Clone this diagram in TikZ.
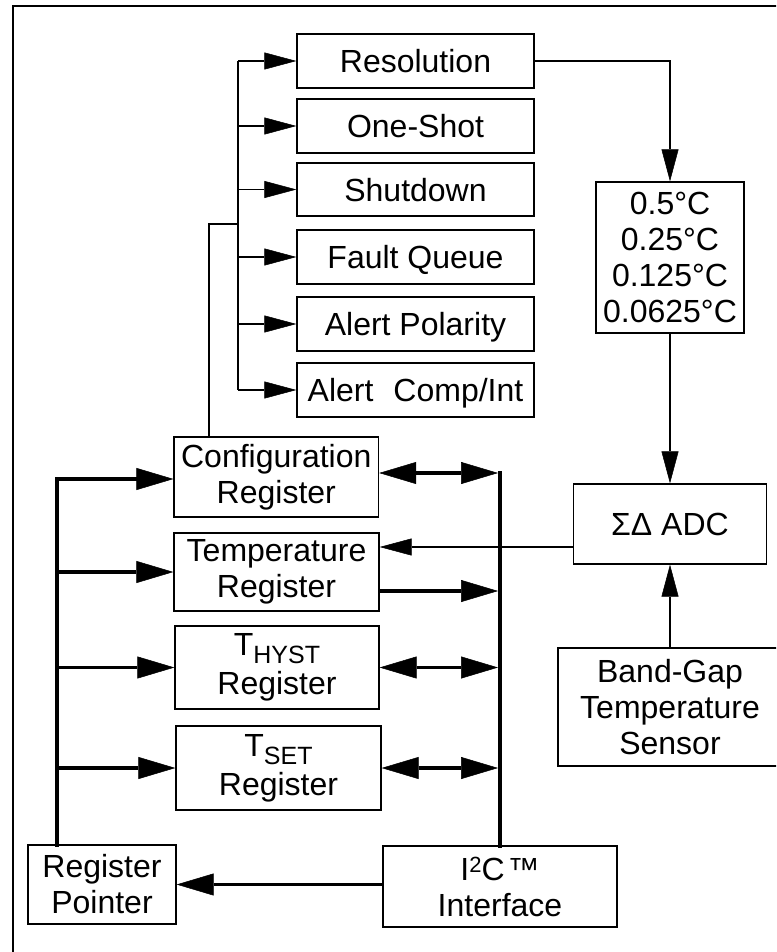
\documentclass[tikz,border=0pt]{standalone}
\usepackage{fontspec}
\setmainfont{Liberation Sans}
\usetikzlibrary{arrows.meta}
\tikzset{
  bx/.style={draw=black, line width=1.3pt, inner sep=0pt, align=center,
    font=\fontsize{32}{36}\selectfont},
  bxone/.style={draw=black, line width=1.3pt, inner sep=0pt,
    font=\fontsize{32}{36}\selectfont, text height=23pt, text depth=0pt},
  thinline/.style={line width=1.3pt},
  tarrow/.style={line width=1.3pt, -{Triangle[length=32pt,width=17pt,line width=0.5pt]}},
  karrow/.style={line width=3.5pt, -{Triangle[length=37pt,width=22pt,line width=0.5pt]}},
  darrow/.style={line width=3.5pt, {Triangle[length=37pt,width=22pt,line width=0.5pt]}-{Triangle[length=37pt,width=22pt,line width=0.5pt]}},
  busline/.style={line width=4.5pt, line cap=rect},
}
\newcommand{\subtxt}[1]{\smash{\lower8pt\hbox{\fontsize{25}{25}\selectfont #1}}}
\begin{document}
\begin{tikzpicture}[x=1pt,y=-1pt]
\useasboundingbox (0,0) rectangle (776,952);
\clip (0,0) rectangle (776,952);

% frame
\draw[line width=1.3pt] (13,960) -- (13,6) -- (790,6);

% configuration items
\node[bxone, minimum width=237pt, minimum height=54pt] (res)   at (415.5,61)  {Resolution};
\node[bxone, minimum width=237pt, minimum height=54pt] (one)   at (415.5,126) {One-Shot};
\node[bxone, minimum width=237pt, minimum height=53pt] (shut)  at (415.5,189.5) {Shutdown};
\node[bxone, minimum width=237pt, minimum height=54pt] (fault) at (415.5,257) {Fault Queue};
\node[bxone, minimum width=237pt, minimum height=54pt] (pol)   at (415.5,324) {Alert Polarity};
\node[bxone, minimum width=237pt, minimum height=54pt] (comp)  at (415.5,390) {Alert\hspace{20pt}Comp/Int};

% resolution values, ADC, sensor
\node[bx, minimum width=148pt, minimum height=151pt] (val) at (670,257.5)
  {0.5°C\\0.25°C\\0.125°C\\0.0625°C};
\node[bxone, minimum width=193pt, minimum height=80pt] (adc) at (670,524) {ΣΔ ADC};
\node[bx, minimum width=224pt, minimum height=118pt] (bg) at (670,707)
  {Band-Gap\\Temperature\\Sensor};

% registers
\node[bx, minimum width=204.5pt, minimum height=80pt] (cfg) at (276.3,477) {Configuration\\Register};
\node[bx, minimum width=205pt, minimum height=78pt] (tmp) at (276.5,572) {Temperature\\Register};
\node[bx, minimum width=204pt, minimum height=83pt] (th) at (277,667.5) {T\subtxt{HYST}\\[3pt]Register};
\node[bx, minimum width=205pt, minimum height=84pt] (ts) at (278.5,768) {T\subtxt{SET}\\[3pt]Register};
\node[bx, minimum width=148pt, minimum height=79pt] (rp) at (102,884.5) {Register\\Pointer};
\node[bx, minimum width=234pt, minimum height=81pt] (i2c) at (500,886.5)
  {I\raisebox{8pt}{\fontsize{22}{22}\selectfont 2}C\hspace{3pt}™\\Interface};

% config item bus
\coordinate (cb) at (238,0);
\draw[thinline] (cb |- res.west) -- (cb |- comp.west);
\foreach \n in {res,one,shut,fault,pol,comp}
  \draw[tarrow] (cb |- \n.west) -- (\n.west);
\coordinate (br) at (238,224);
\coordinate (bl) at (209,224);
\draw[thinline] (br) -- (bl) -- (bl |- cfg.north);

% resolution path
\draw[tarrow] (res.east) -| (val.north);
\draw[tarrow] (val.south) -- (val.south |- adc.north);
\draw[tarrow] (bg.north) -- (bg.north |- adc.south);
\draw[tarrow] ([yshift=-23pt]adc.west) -- ([yshift=-23pt]adc.west -| tmp.east);

% left bus (register pointer)
\coordinate (lb) at (57,479);
\draw[busline] (lb) -- (lb |- rp.north);
\draw[karrow] (lb) -- ([yshift=-2pt]cfg.west);
\draw[karrow] (lb |- tmp.west) -- (tmp.west);
\draw[karrow] (lb |- th.west) -- (th.west);
\draw[karrow] (lb |- ts.west) -- (ts.west);

% right bus (I2C)
\coordinate (rb) at (500,473);
\coordinate (rbl) at (498,0);
\draw[busline] (rb) -- (rb |- i2c.north);
\draw[darrow] ([yshift=4pt]cfg.east) -- ([yshift=4pt]cfg.east -| rbl);
\draw[karrow] ([yshift=-19pt]tmp.east) -- ([yshift=-19pt]tmp.east -| rbl);
\draw[darrow] (th.east) -- (th.east -| rbl);
\draw[darrow] (ts.east) -- (ts.east -| rbl);

% I2C to register pointer
\draw[karrow] ([yshift=2pt]i2c.west) -- ([yshift=2pt]i2c.west -| rp.east);
\end{tikzpicture}
\end{document}
